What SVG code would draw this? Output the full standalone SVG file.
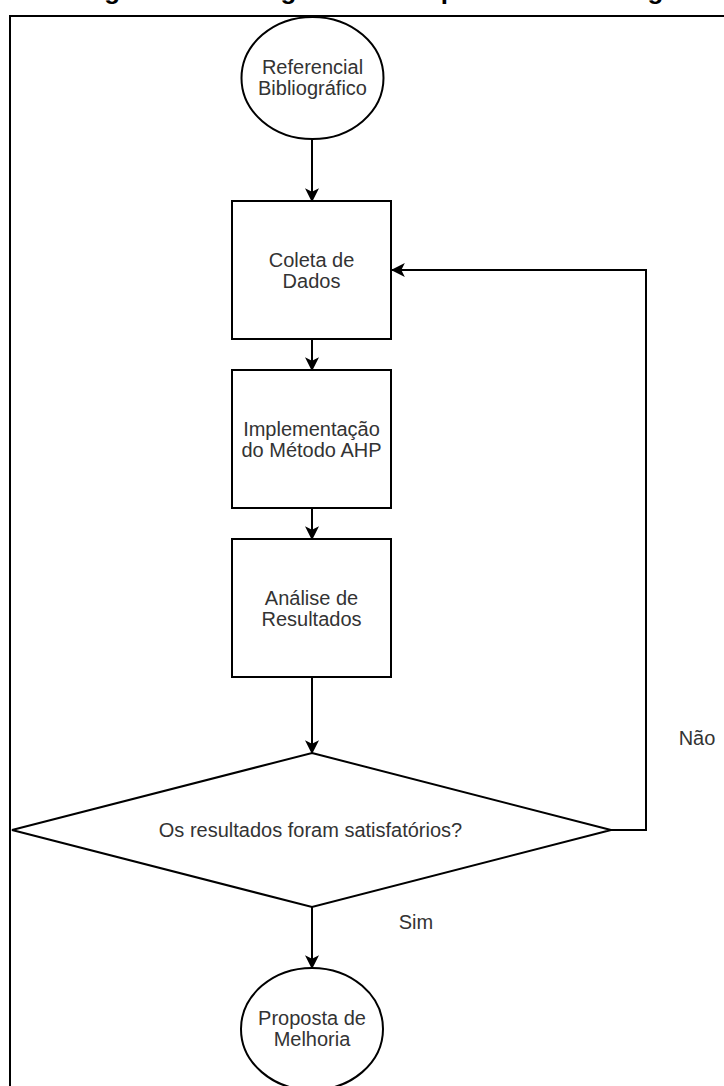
<svg xmlns="http://www.w3.org/2000/svg" width="724" height="1086" viewBox="0 0 724 1086">
  <style>
    .shape { fill: #ffffff; stroke: #000000; stroke-width: 2; }
    .edge { fill: none; stroke: #000000; stroke-width: 2; }
    .label { font-family: "Liberation Sans", Arial, sans-serif; font-size: 20px; fill: #333333; text-anchor: middle; }
    .title { font-family: "Liberation Sans", Arial, sans-serif; font-size: 26px; font-weight: bold; fill: #000000; text-anchor: middle; }
  </style>
  <defs>
    <marker id="arrow" markerUnits="userSpaceOnUse" markerWidth="14" markerHeight="14" viewBox="0 0 12 12" refX="11" refY="6" orient="auto">
      <path d="M0,0 L12,6 L0,12 L3,6 Z" fill="#000000"/>
    </marker>
  </defs>
  <rect x="0" y="0" width="724" height="1086" fill="#ffffff"/>
  <text class="title" x="383" y="-1">Figura 3 – Fluxograma de etapas da metodologia</text>
  <rect id="frame" x="10" y="16" width="740" height="1100" fill="none" stroke="#000000" stroke-width="2"/>

  <g id="connectors">
    <path class="edge" d="M312,140 L312,201" marker-end="url(#arrow)"/>
    <path class="edge" d="M312,339 L312,370" marker-end="url(#arrow)"/>
    <path class="edge" d="M312,508 L312,539" marker-end="url(#arrow)"/>
    <path class="edge" d="M312,677 L312,753" marker-end="url(#arrow)"/>
    <path class="edge" d="M312,907 L312,968" marker-end="url(#arrow)"/>
    <path class="edge" d="M611,830 L646,830 L646,270 L392,270" marker-end="url(#arrow)"/>
    <text class="label" x="697" y="745">Não</text>
    <text class="label" x="416" y="929">Sim</text>
  </g>

  <g id="referencial">
    <ellipse class="shape" cx="312.5" cy="78" rx="71" ry="61"/>
    <text class="label" x="312.5" y="74">Referencial</text>
    <text class="label" x="312.5" y="95">Bibliográfico</text>
  </g>

  <g id="coleta">
    <rect class="shape" x="232" y="201" width="159" height="138"/>
    <text class="label" x="311.5" y="267">Coleta de</text>
    <text class="label" x="311.5" y="288">Dados</text>
  </g>

  <g id="implementacao">
    <rect class="shape" x="232" y="370" width="159" height="138"/>
    <text class="label" x="311.5" y="436">Implementação</text>
    <text class="label" x="311.5" y="457">do Método AHP</text>
  </g>

  <g id="analise">
    <rect class="shape" x="232" y="539" width="159" height="138"/>
    <text class="label" x="311.5" y="605">Análise de</text>
    <text class="label" x="311.5" y="626">Resultados</text>
  </g>

  <g id="decisao">
    <polygon class="shape" points="312,753 611,830 312,907 12,830"/>
    <text class="label" x="310.5" y="837">Os resultados foram satisfatórios?</text>
  </g>

  <g id="proposta">
    <ellipse class="shape" cx="312" cy="1029" rx="71" ry="61"/>
    <text class="label" x="312" y="1025">Proposta de</text>
    <text class="label" x="312" y="1046">Melhoria</text>
  </g>
</svg>
